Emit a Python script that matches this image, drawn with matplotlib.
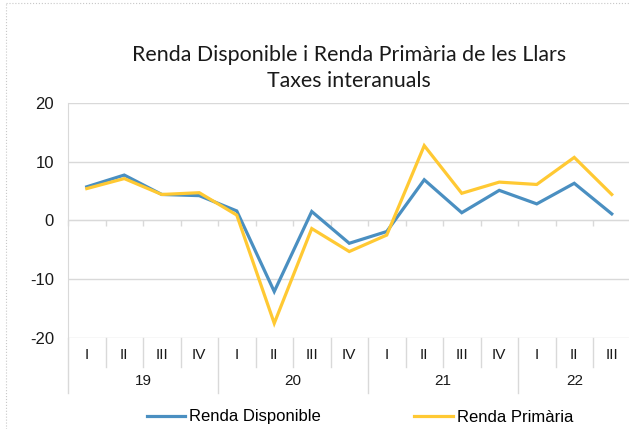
import matplotlib.pyplot as plt
from matplotlib.lines import Line2D

plt.rcParams['axes.unicode_minus'] = False

# Quarterly data 2019-I .. 2022-III
years = ['19', '20', '21', '22']
quarters = ['I', 'II', 'III', 'IV', 'I', 'II', 'III', 'IV', 'I', 'II', 'III', 'IV', 'I', 'II', 'III']
renda_disponible = [5.7, 7.7, 4.4, 4.2, 1.6, -12.1, 1.5, -3.9, -1.9, 6.9, 1.3, 5.1, 2.8, 6.3, 1.1]
renda_primaria = [5.4, 7.1, 4.4, 4.7, 0.9, -17.5, -1.4, -5.3, -2.5, 12.7, 4.6, 6.5, 6.1, 10.7, 4.4]

blue = '#4a8fc1'
yellow = '#ffc933'
grid_c = '#d9d9d9'
txt_c = '#1a1a1a'

W, H = 629, 429
fig = plt.figure(figsize=(W / 100, H / 100), dpi=100)

left, right, top, bottom = 68, 630.5, 102.7, 338.0
ax = fig.add_axes([left / W, 1 - bottom / H, (right - left) / W, (bottom - top) / H])

n = len(quarters)
x = list(range(n))
ax.plot(x, renda_disponible, color=blue, lw=2.3, solid_joinstyle='miter', zorder=3)
ax.plot(x, renda_primaria, color=yellow, lw=2.3, solid_joinstyle='miter', zorder=3)

ax.set_xlim(-0.5, n - 0.5)
ax.set_ylim(-20, 20)
ax.set_yticks([-20, -10, 0, 10, 20])
ax.yaxis.grid(True, color=grid_c, lw=1)
ax.set_axisbelow(True)
ax.tick_params(axis='y', length=0, pad=10, labelsize=12, labelcolor=txt_c)
for lab in ax.get_yticklabels():
    lab.set_family('Liberation Sans')

for s in ['top', 'right']:
    ax.spines[s].set_visible(False)
ax.spines['left'].set_color(grid_c)
ax.spines['bottom'].set_position(('data', 0))
ax.spines['bottom'].set_color(grid_c)
ax.set_xticks([i - 0.5 for i in range(n + 1)])
ax.set_xticklabels([])
ax.tick_params(axis='x', direction='out', length=4, color=grid_c, width=1)

# multi-level category labels below the plot
trans = ax.get_xaxis_transform()
ph = bottom - top
for i, q in enumerate(quarters):
    ax.text(i, -17 / ph, q, transform=trans, ha='center', va='center',
            fontsize=11, family='Liberation Sans', color=txt_c)
for i in range(1, n):
    if i % 4 != 0:
        ax.add_line(Line2D([i - 0.5, i - 0.5], [0, -29 / ph], transform=trans,
                           color=grid_c, lw=1, clip_on=False))
for k, yr in enumerate(years):
    ax.add_line(Line2D([4 * k - 0.5, 4 * k - 0.5], [0, -55 / ph], transform=trans,
                       color=grid_c, lw=1, clip_on=False))
    end = min(4 * k + 3, n - 1)
    ax.text((4 * k + end) / 2, -43 / ph, yr, transform=trans, ha='center', va='center',
            fontsize=11, family='Liberation Sans', color=txt_c)

fig.text(349 / W, 1 - 55 / H, 'Renda Disponible i Renda Primària de les Llars',
         ha='center', va='center', fontsize=15.4, family='Lato', color=txt_c)
fig.text(349 / W, 1 - 81 / H, 'Taxes interanuals',
         ha='center', va='center', fontsize=15.4, family='Lato', color=txt_c)

# legend
handles = [Line2D([], [], color=blue, lw=2.3), Line2D([], [], color=yellow, lw=2.3)]
fig.legend(handles, ['Renda Disponible', 'Renda Primària'], loc='center',
           bbox_to_anchor=(360 / W, 1 - 417 / H), ncol=2, frameon=False,
           prop={'family': 'Liberation Sans', 'size': 12}, handlelength=2.3,
           handletextpad=0.25, columnspacing=5.6)

# dotted chart border
fig.add_artist(Line2D([6 / W, 1], [1 - 3 / H, 1 - 3 / H], transform=fig.transFigure,
                      color='#c8c8c8', lw=0.8, ls=':'))
fig.add_artist(Line2D([6 / W, 6 / W], [0, 1 - 3 / H], transform=fig.transFigure,
                      color='#c8c8c8', lw=0.8, ls=':'))

fig.savefig('out.png', dpi=100)
